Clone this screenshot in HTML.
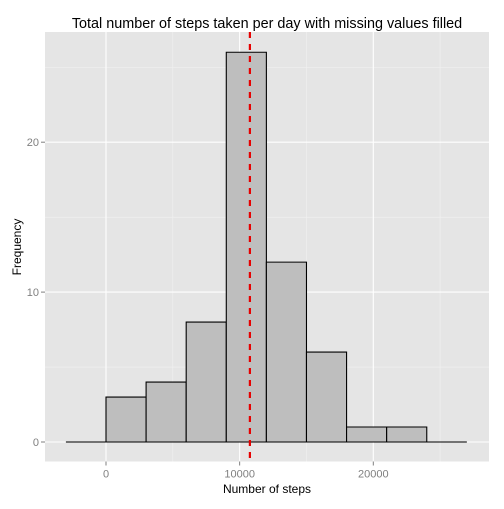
<!DOCTYPE html>
<html><head><meta charset="utf-8"><style>
body{margin:0;background:#fff;font-family:"Liberation Sans",Arial,sans-serif}
</style></head><body>
<svg id="chart" width="504" height="504" xmlns="http://www.w3.org/2000/svg">
<rect width="504" height="504" fill="#fff"/>
<rect x="45" y="32" width="444" height="429.5" fill="#e5e5e5"/>
<g id="grid"></g>
<g id="bars"></g>
<g id="axes"></g>
<text x="267" y="28" text-anchor="middle" font-size="14.4" fill="#000">Total number of steps taken per day with missing values filled</text>
<text x="267" y="493" text-anchor="middle" font-size="12" fill="#000">Number of steps</text>
<text transform="translate(21,247) rotate(-90)" text-anchor="middle" font-size="12" fill="#000">Frequency</text>
</svg>
<script>
const binStarts=[-3000,0,3000,6000,9000,12000,15000,18000,21000,24000];
const counts=[0,3,4,8,26,12,6,1,1,0];
const binWidth=3000;
const meanSteps=10766;
const xTicks=[0,10000,20000];
const xMinor=[5000,15000,25000];
const yTicks=[0,10,20];
const yMinor=[5,15,25];
const NS="http://www.w3.org/2000/svg";
const X=v=>106+v*0.013365;
const Y=v=>442-v*14.99;
const PL=45,PR=489,PT=32,PB=461.5;
function mk(tag,attrs,parent){const e=document.createElementNS(NS,tag);for(const k in attrs)e.setAttribute(k,attrs[k]);document.getElementById(parent).appendChild(e);return e;}
xMinor.forEach(v=>{const l=mk('line',{x1:X(v),x2:X(v),y1:PT,y2:PB,stroke:'#f2f2f2','stroke-width':0.6},'grid');

});
yMinor.forEach(v=>{const l=mk('line',{x1:PL,x2:PR,y1:Y(v),y2:Y(v),stroke:'#f2f2f2','stroke-width':0.6},'grid');

});
xTicks.forEach(v=>{const l=mk('line',{x1:X(v),x2:X(v),y1:PT,y2:PB,stroke:'#fff','stroke-width':1.1},'grid');


const t=mk('line',{x1:X(v),x2:X(v),y1:PB,y2:PB+4,stroke:'#7f7f7f','stroke-width':1},'axes');


const tx=mk('text',{x:X(v),y:PB+16,'text-anchor':'middle','font-size':11,fill:'#7f7f7f'},'axes');tx.textContent=v;

});
yTicks.forEach(v=>{const l=mk('line',{x1:PL,x2:PR,y1:Y(v),y2:Y(v),stroke:'#fff','stroke-width':1.1},'grid');


const t=mk('line',{x1:PL-4,x2:PL,y1:Y(v),y2:Y(v),stroke:'#7f7f7f','stroke-width':1},'axes');


const tx=mk('text',{x:PL-6,y:Y(v)+4,'text-anchor':'end','font-size':11,fill:'#7f7f7f'},'axes');tx.textContent=v;

});
binStarts.forEach((b,i)=>{const x0=X(b),x1=X(b+binWidth),y=Y(counts[i]),y0=Y(0);
const r=mk('path',{d:`M${x0},${y0}L${x0},${y}L${x1},${y}L${x1},${y0}Z`,fill:'#bebebe',stroke:'#000','stroke-width':1.1},'bars');

});
const m=mk('line',{x1:X(meanSteps),x2:X(meanSteps),y1:PT,y2:PB,stroke:'#e60000','stroke-width':2.2,'stroke-dasharray':'6,6'},'bars');


</script>
</body></html>
